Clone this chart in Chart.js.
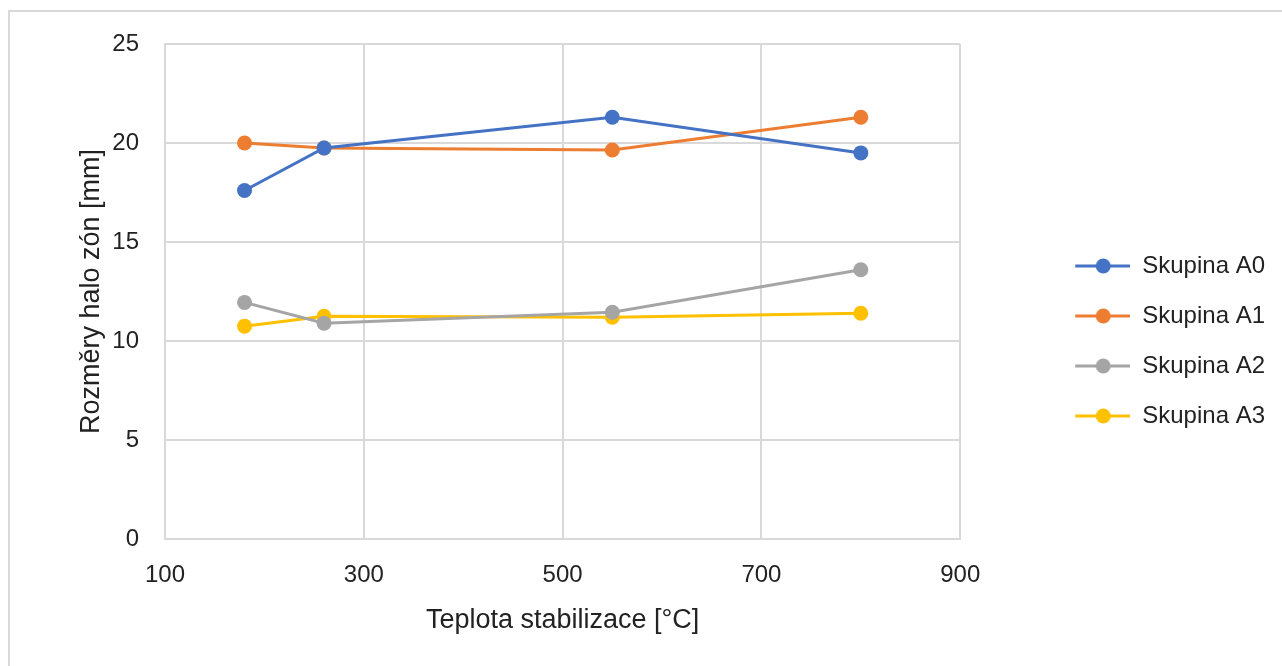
<!DOCTYPE html>
<html>
<head>
<meta charset="utf-8">
<script src="https://cdn.jsdelivr.net/npm/chart.js@4"></script>
<style>
  html, body { margin: 0; padding: 0; background: #fff; }
  #wrap { width: 1282px; height: 666px; position: relative; }
</style>
</head>
<body>
<div id="wrap"><canvas id="chart"></canvas></div>
<script>
// data
const temperatures = [180, 260, 550, 800];
const seriesNames = ['Skupina A0', 'Skupina A1', 'Skupina A2', 'Skupina A3'];
const groupA0 = [17.6, 19.75, 21.3, 19.5];
const groupA1 = [20.0, 19.75, 19.65, 21.3];
const groupA2 = [11.95, 10.9, 11.45, 13.6];
const groupA3 = [10.75, 11.25, 11.2, 11.4];
const seriesColors = ['#4472C4', '#ED7D31', '#A5A5A5', '#FFC000'];

const FONT = "'Liberation Sans', Arial, sans-serif";
const GRID = '#d9d9d9';

// legend symbol: short line with a dot, with empty space on the left
function legendSymbol(color) {
  const c = document.createElement('canvas');
  c.width = 144;
  c.height = 18;
  const g = c.getContext('2d');
  g.strokeStyle = color;
  g.lineWidth = 3;
  g.beginPath();
  g.moveTo(89, 9);
  g.lineTo(144, 9);
  g.stroke();
  g.fillStyle = color;
  g.beginPath();
  g.arc(117, 9, 7.5, 0, Math.PI * 2);
  g.fill();
  return c;
}

function toPoints(values) {
  return temperatures.map((t, i) => ({ x: t, y: values[i] }));
}

const frame = {
  id: 'frame',
  beforeDraw(chart) {
    const ctx = chart.ctx;
    ctx.save();
    ctx.strokeStyle = GRID;
    ctx.lineWidth = 2;
    ctx.beginPath();
    ctx.moveTo(9, 666);
    ctx.lineTo(9, 11);
    ctx.lineTo(1282, 11);
    ctx.stroke();
    ctx.restore();
  },
};

const ctx = document.getElementById('chart').getContext('2d');

new Chart(ctx, {
  type: 'scatter',
  data: {
    datasets: [groupA0, groupA1, groupA2, groupA3].map((values, i) => ({
      label: seriesNames[i],
      data: toPoints(values),
      showLine: true,
      borderColor: seriesColors[i],
      backgroundColor: seriesColors[i],
      borderWidth: 3,
      pointRadius: 7.5,
      pointHoverRadius: 7.5,
      pointBorderWidth: 0,
    })),
  },
  options: {
    responsive: true,
    maintainAspectRatio: false,
    animation: false,
    layout: {
      padding: { left: 0, top: 44, right: 7, bottom: 28 },
    },
    scales: {
      x: {
        type: 'linear',
        min: 100,
        max: 900,
        ticks: {
          stepSize: 200,
          padding: 22,
          color: '#222',
          font: { family: FONT, size: 24 },
        },
        grid: { color: GRID, lineWidth: 2, drawTicks: false },
        border: { color: GRID, width: 2 },
        title: {
          display: true,
          text: 'Teplota stabilizace [°C]',
          color: '#222',
          font: { family: FONT, size: 27 },
          padding: { top: 0, bottom: 1 },
        },
        afterFit(scale) {
          scale.height = 99;
        },
      },
      y: {
        min: 0,
        max: 25,
        ticks: {
          stepSize: 5,
          padding: 26,
          color: '#222',
          font: { family: FONT, size: 24 },
        },
        grid: { color: GRID, lineWidth: 2, drawTicks: false },
        border: { color: GRID, width: 2 },
        title: {
          display: true,
          text: 'Rozměry halo zón [mm]',
          color: '#222',
          font: { family: FONT, size: 27 },
          padding: { top: 75, bottom: 0 },
        },
        afterFit(scale) {
          scale.width = 165;
        },
      },
    },
    plugins: {
      legend: {
        position: 'right',
        labels: {
          usePointStyle: true,
          pointStyleWidth: 144,
          padding: 26,
          color: '#222',
          font: { family: FONT, size: 24 },
          generateLabels(chart) {
            const items = Chart.defaults.plugins.legend.labels.generateLabels(chart);
            return items.map((item, i) => ({ ...item, pointStyle: legendSymbol(seriesColors[i]) }));
          },
        },
      },
      tooltip: { enabled: false },
    },
  },
  plugins: [frame],
});
</script>
</body>
</html>
